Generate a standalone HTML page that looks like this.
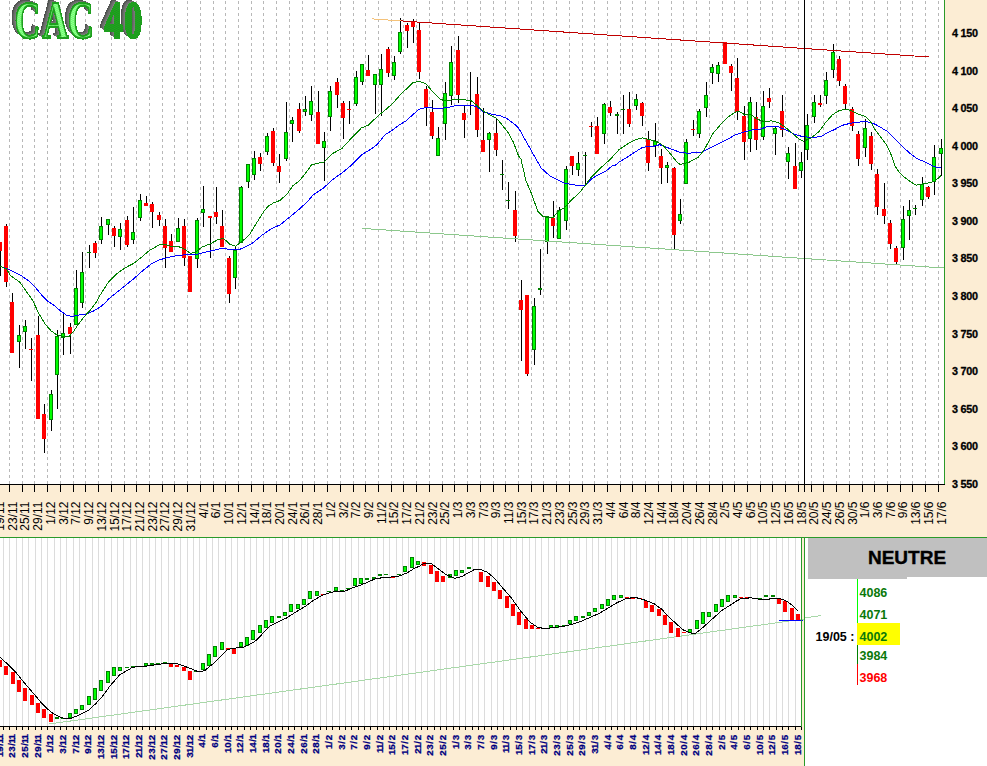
<!DOCTYPE html>
<html><head><meta charset="utf-8"><style>
html,body{margin:0;padding:0;background:#fcedd4;}
body{width:987px;height:766px;overflow:hidden;}
svg{display:block;}

</style></head><body>
<svg width="987" height="766" viewBox="0 0 987 766" shape-rendering="crispEdges">
<defs><filter id="crispT" x="0" y="0" width="1" height="1" color-interpolation-filters="sRGB"><feComponentTransfer><feFuncA type="discrete" tableValues="0 0 1 1 1"/></feComponentTransfer></filter></defs>
<rect x="0" y="0" width="944" height="484" fill="#ffffff"/>
<path d="M9.5 0V484 M22.5 0V484 M34.5 0V484 M47.5 0V484 M60.5 0V484 M73.5 0V484 M85.5 0V484 M98.5 0V484 M111.5 0V484 M124.5 0V484 M136.5 0V484 M149.5 0V484 M162.5 0V484 M174.5 0V484 M187.5 0V484 M200.5 0V484 M213.5 0V484 M225.5 0V484 M238.5 0V484 M251.5 0V484 M263.5 0V484 M276.5 0V484 M289.5 0V484 M302.5 0V484 M314.5 0V484 M327.5 0V484 M340.5 0V484 M353.5 0V484 M365.5 0V484 M378.5 0V484 M391.5 0V484 M403.5 0V484 M416.5 0V484 M429.5 0V484 M442.5 0V484 M454.5 0V484 M467.5 0V484 M480.5 0V484 M493.5 0V484 M505.5 0V484 M518.5 0V484 M531.5 0V484 M543.5 0V484 M556.5 0V484 M569.5 0V484 M582.5 0V484 M594.5 0V484 M607.5 0V484 M620.5 0V484 M632.5 0V484 M645.5 0V484 M658.5 0V484 M671.5 0V484 M683.5 0V484 M696.5 0V484 M709.5 0V484 M722.5 0V484 M734.5 0V484 M747.5 0V484 M760.5 0V484 M772.5 0V484 M785.5 0V484 M798.5 0V484 M811.5 0V484 M823.5 0V484 M836.5 0V484 M849.5 0V484 M862.5 0V484 M874.5 0V484 M887.5 0V484 M900.5 0V484 M912.5 0V484 M925.5 0V484 M938.5 0V484" stroke="#b8b8b8" stroke-width="1" stroke-dasharray="3 3" stroke-dashoffset="5" fill="none"/>
<path d="M0.5 242V276 M6.5 224V287 M12.5 293V353 M19.5 325V368 M25.5 320V349 M31.5 338V381 M38.5 316V419 M44.5 404V453 M51.5 390V431 M57.5 330V409 M63.5 314V355 M70.5 323V354 M76.5 270V325 M82.5 252V308 M89.5 245V268 M95.5 241V258 M101.5 217V244 M108.5 219V235 M114.5 226V247 M120.5 223V250 M127.5 216V247 M133.5 207V244 M140.5 194V221 M146.5 196V206 M152.5 202V228 M159.5 212V226 M165.5 219V268 M171.5 234V252 M178.5 218V242 M184.5 219V266 M190.5 256V292 M197.5 218V268 M203.5 186V227 M210.5 216V258 M216.5 187V224 M222.5 210V247 M229.5 256V303 M235.5 247V289 M241.5 186V243 M248.5 164V188 M254.5 151V180 M260.5 153V171 M267.5 133V155 M273.5 128V166 M279.5 154V183 M286.5 102V161 M292.5 117V142 M299.5 103V133 M305.5 96V116 M311.5 86V121 M318.5 91V144 M324.5 132V181 M330.5 86V131 M337.5 78V108 M343.5 101V139 M349.5 101V124 M356.5 71V106 M362.5 64V85 M368.5 55V76 M375.5 74V114 M381.5 54V116 M388.5 47V77 M394.5 56V80 M400.5 18V54 M407.5 23V48 M413.5 19V43 M419.5 22V79 M426.5 86V126 M432.5 100V139 M438.5 127V156 M445.5 82V140 M451.5 46V105 M458.5 36V103 M464.5 106V138 M470.5 72V115 M477.5 77V137 M483.5 108V152 M489.5 132V172 M496.5 119V156 M502.5 160V190 M508.5 182V209 M515.5 191V242 M521.5 280V361 M527.5 295V376 M534.5 298V365 M540.5 249V295 M547.5 217V254 M553.5 201V238 M559.5 207V239 M566.5 166V230 M572.5 156V175 M578.5 152V176 M585.5 152V184 M591.5 122V137 M597.5 117V154 M604.5 103V144 M610.5 101V116 M617.5 112V134 M623.5 95V134 M629.5 92V127 M636.5 94V110 M642.5 102V126 M648.5 131V171 M655.5 123V157 M661.5 149V184 M667.5 162V183 M674.5 167V249 M680.5 199V224 M686.5 139V184 M693.5 120V136 M699.5 109V138 M706.5 82V117 M712.5 64V84 M718.5 62V82 M725.5 42V64 M731.5 64V91 M737.5 58V120 M744.5 106V160 M750.5 97V152 M756.5 102V150 M763.5 91V140 M769.5 88V108 M775.5 127V155 M782.5 95V137 M788.5 147V179 M795.5 143V189 M801.5 152V178 M807.5 114V160 M814.5 95V123 M820.5 95V107 M826.5 72V104 M833.5 44V78 M839.5 56V86 M845.5 84V109 M852.5 107V131 M858.5 131V166 M865.5 119V157 M871.5 132V170 M877.5 169V215 M884.5 183V224 M890.5 220V249 M896.5 246V265 M903.5 206V260 M909.5 200V240 M915.5 205V215 M922.5 177V206 M928.5 186V199 M934.5 145V195 M941.5 139V176" stroke="#000" stroke-width="1" fill="none"/>
<g fill="#ff0000"><rect x="-2" y="242" width="4" height="9"/><rect x="4" y="226" width="4" height="56"/><rect x="10" y="302" width="4" height="51"/><rect x="29" y="349" width="4" height="1"/><rect x="36" y="335" width="4" height="84"/><rect x="42" y="414" width="4" height="25"/><rect x="68" y="327" width="4" height="7"/><rect x="93" y="243" width="4" height="10"/><rect x="112" y="228" width="4" height="8"/><rect x="125" y="220" width="4" height="25"/><rect x="144" y="203" width="4" height="3"/><rect x="150" y="204" width="4" height="8"/><rect x="157" y="215" width="4" height="5"/><rect x="163" y="226" width="4" height="22"/><rect x="169" y="241" width="4" height="11"/><rect x="182" y="226" width="4" height="32"/><rect x="188" y="256" width="4" height="36"/><rect x="208" y="216" width="4" height="2"/><rect x="214" y="212" width="4" height="5"/><rect x="220" y="226" width="4" height="21"/><rect x="227" y="258" width="4" height="36"/><rect x="258" y="157" width="4" height="7"/><rect x="271" y="131" width="4" height="32"/><rect x="277" y="166" width="4" height="6"/><rect x="297" y="109" width="4" height="22"/><rect x="316" y="112" width="4" height="32"/><rect x="335" y="82" width="4" height="13"/><rect x="341" y="103" width="4" height="15"/><rect x="347" y="109" width="4" height="1"/><rect x="366" y="70" width="4" height="6"/><rect x="386" y="49" width="4" height="24"/><rect x="405" y="25" width="4" height="6"/><rect x="411" y="21" width="4" height="6"/><rect x="417" y="30" width="4" height="42"/><rect x="424" y="89" width="4" height="19"/><rect x="430" y="112" width="4" height="24"/><rect x="456" y="50" width="4" height="45"/><rect x="462" y="113" width="4" height="7"/><rect x="475" y="94" width="4" height="36"/><rect x="481" y="140" width="4" height="12"/><rect x="494" y="133" width="4" height="17"/><rect x="513" y="210" width="4" height="26"/><rect x="519" y="300" width="4" height="10"/><rect x="525" y="295" width="4" height="79"/><rect x="551" y="218" width="4" height="8"/><rect x="570" y="156" width="4" height="10"/><rect x="589" y="126" width="4" height="1"/><rect x="595" y="126" width="4" height="28"/><rect x="608" y="107" width="4" height="6"/><rect x="627" y="109" width="4" height="15"/><rect x="640" y="103" width="4" height="13"/><rect x="646" y="139" width="4" height="24"/><rect x="659" y="156" width="4" height="12"/><rect x="672" y="168" width="4" height="67"/><rect x="691" y="129" width="4" height="1"/><rect x="723" y="42" width="4" height="22"/><rect x="729" y="66" width="4" height="7"/><rect x="735" y="78" width="4" height="34"/><rect x="742" y="116" width="4" height="26"/><rect x="754" y="117" width="4" height="23"/><rect x="767" y="98" width="4" height="4"/><rect x="780" y="111" width="4" height="19"/><rect x="793" y="166" width="4" height="23"/><rect x="818" y="103" width="4" height="2"/><rect x="837" y="59" width="4" height="22"/><rect x="843" y="86" width="4" height="18"/><rect x="850" y="109" width="4" height="17"/><rect x="856" y="134" width="4" height="25"/><rect x="869" y="136" width="4" height="28"/><rect x="875" y="174" width="4" height="33"/><rect x="882" y="209" width="4" height="7"/><rect x="888" y="223" width="4" height="21"/><rect x="894" y="248" width="4" height="14"/><rect x="926" y="187" width="4" height="10"/></g>
<g fill="#00ff00" stroke="#008000" stroke-width="1"><rect x="17.5" y="335.5" width="3" height="6"/><rect x="23.5" y="326.5" width="3" height="5"/><rect x="49.5" y="394.5" width="3" height="25"/><rect x="55.5" y="336.5" width="3" height="38"/><rect x="61.5" y="333.5" width="3" height="4"/><rect x="74.5" y="288.5" width="3" height="36"/><rect x="80.5" y="272.5" width="3" height="30"/><rect x="87.5" y="252.5" width="3" height="0.01"/><rect x="99.5" y="226.5" width="3" height="13"/><rect x="106.5" y="219.5" width="3" height="5"/><rect x="118.5" y="229.5" width="3" height="7"/><rect x="131.5" y="232.5" width="3" height="7"/><rect x="138.5" y="200.5" width="3" height="17"/><rect x="176.5" y="228.5" width="3" height="13"/><rect x="195.5" y="220.5" width="3" height="38"/><rect x="201.5" y="209.5" width="3" height="3"/><rect x="233.5" y="250.5" width="3" height="27"/><rect x="239.5" y="187.5" width="3" height="55"/><rect x="246.5" y="164.5" width="3" height="17"/><rect x="252.5" y="158.5" width="3" height="16"/><rect x="265.5" y="136.5" width="3" height="15"/><rect x="284.5" y="132.5" width="3" height="26"/><rect x="290.5" y="120.5" width="3" height="3"/><rect x="303.5" y="109.5" width="3" height="2"/><rect x="309.5" y="101.5" width="3" height="13"/><rect x="322.5" y="141.5" width="3" height="6"/><rect x="328.5" y="91.5" width="3" height="25"/><rect x="354.5" y="77.5" width="3" height="26"/><rect x="360.5" y="64.5" width="3" height="17"/><rect x="373.5" y="74.5" width="3" height="10"/><rect x="379.5" y="69.5" width="3" height="15"/><rect x="392.5" y="62.5" width="3" height="13"/><rect x="398.5" y="32.5" width="3" height="19"/><rect x="436.5" y="138.5" width="3" height="17"/><rect x="443.5" y="93.5" width="3" height="30"/><rect x="449.5" y="62.5" width="3" height="33"/><rect x="468.5" y="100.5" width="3" height="0.01"/><rect x="487.5" y="133.5" width="3" height="6"/><rect x="500.5" y="174.5" width="3" height="0.01"/><rect x="506.5" y="200.5" width="3" height="0.01"/><rect x="532.5" y="306.5" width="3" height="43"/><rect x="538.5" y="288.5" width="3" height="1"/><rect x="545.5" y="217.5" width="3" height="24"/><rect x="557.5" y="210.5" width="3" height="28"/><rect x="564.5" y="169.5" width="3" height="51"/><rect x="576.5" y="163.5" width="3" height="6"/><rect x="583.5" y="155.5" width="3" height="0.01"/><rect x="602.5" y="104.5" width="3" height="29"/><rect x="615.5" y="114.5" width="3" height="1"/><rect x="621.5" y="109.5" width="3" height="0.01"/><rect x="634.5" y="99.5" width="3" height="6"/><rect x="653.5" y="141.5" width="3" height="4"/><rect x="665.5" y="165.5" width="3" height="2"/><rect x="678.5" y="214.5" width="3" height="6"/><rect x="684.5" y="142.5" width="3" height="41"/><rect x="697.5" y="111.5" width="3" height="22"/><rect x="704.5" y="95.5" width="3" height="12"/><rect x="710.5" y="67.5" width="3" height="5"/><rect x="716.5" y="65.5" width="3" height="8"/><rect x="748.5" y="102.5" width="3" height="36"/><rect x="761.5" y="106.5" width="3" height="30"/><rect x="773.5" y="128.5" width="3" height="5"/><rect x="786.5" y="153.5" width="3" height="8"/><rect x="799.5" y="162.5" width="3" height="8"/><rect x="805.5" y="125.5" width="3" height="24"/><rect x="812.5" y="102.5" width="3" height="14"/><rect x="824.5" y="80.5" width="3" height="15"/><rect x="831.5" y="52.5" width="3" height="17"/><rect x="863.5" y="128.5" width="3" height="19"/><rect x="901.5" y="219.5" width="3" height="28"/><rect x="907.5" y="210.5" width="3" height="5"/><rect x="913.5" y="208.5" width="3" height="0.01"/><rect x="920.5" y="184.5" width="3" height="15"/><rect x="932.5" y="157.5" width="3" height="24"/><rect x="939.5" y="148.5" width="3" height="5"/></g>
<line x1="372" y1="18.9" x2="401" y2="20.9" stroke="#f4c27a" stroke-width="1"/><line x1="401" y1="20.9" x2="929" y2="57.0" stroke="#c00000" stroke-width="1"/><line x1="362" y1="228.4" x2="944" y2="268" stroke="#8cc88c" stroke-width="1"/>
<polyline points="0.0,266.2 6.6,268.4 13.2,271.7 21.1,275.6 29.0,281.0 36.7,289.0 41.8,295.1 47.9,301.2 54.0,305.3 61.1,311.4 66.2,315.0 71.3,316.5 77.4,315.3 86.6,313.9 93.7,310.9 99.8,307.3 105.5,302.7 108.5,299.0 117.0,292.2 125.5,285.4 133.9,278.6 142.4,271.0 150.9,264.2 159.4,259.9 167.9,257.4 176.4,255.7 184.8,254.8 195.0,254.8 205.2,252.3 215.4,249.8 222.2,248.1 230.0,249.5 239.4,249.5 251.1,244.2 262.0,235.2 272.2,228.2 280.0,225.0 290.0,216.8 297.9,210.3 306.4,202.7 313.1,195.0 323.3,188.2 333.5,178.9 342.0,173.0 352.2,164.5 362.4,154.3 370.8,149.2 376.7,145.0 385.2,134.6 392.0,130.4 398.8,125.3 405.6,121.1 412.4,115.1 419.2,109.2 425.9,107.5 433.6,108.1 440.4,108.4 447.2,107.7 453.9,106.0 460.7,105.2 470.9,105.2 477.7,107.2 482.8,111.5 491.3,114.0 499.8,115.7 506.5,118.2 513.3,123.3 518.4,127.6 523.5,136.9 530.3,148.8 535.4,158.0 541.3,168.2 549.8,175.8 558.2,180.1 565.0,183.5 571.8,184.3 578.6,186.0 585.2,185.2 592.2,178.4 599.0,174.5 605.6,171.3 612.5,165.6 615.5,165.0 620.0,161.4 625.7,158.2 635.9,151.5 642.7,147.2 652.9,146.4 659.7,144.7 666.5,147.2 673.2,149.8 680.0,152.3 686.8,153.1 701.0,152.8 707.4,149.4 716.6,144.8 725.7,140.2 734.8,135.2 744.0,132.0 753.1,129.7 760.0,129.3 767.9,126.4 778.1,126.7 786.5,130.1 795.0,134.4 803.5,136.9 812.0,137.2 820.5,136.9 829.0,131.8 835.0,129.4 839.2,126.7 844.4,124.7 852.6,122.9 862.0,121.7 870.3,122.1 876.1,124.7 882.0,128.2 887.9,131.7 893.8,137.6 899.6,143.5 905.5,149.4 911.4,154.6 917.3,158.8 924.3,161.7 931.4,165.2 936.1,167.2 940.8,167.2" fill="none" stroke="#0000ff" stroke-width="1" stroke-linejoin="round"/>
<polyline points="0.0,266.2 6.6,269.0 10.5,275.6 19.8,282.2 26.4,291.5 32.6,300.2 38.7,313.4 44.8,323.6 50.9,330.7 56.0,334.3 63.1,336.8 69.2,336.3 73.3,331.8 77.4,325.6 83.5,317.5 89.6,310.9 95.7,303.2 99.8,295.6 108.5,282.0 117.0,273.5 125.5,267.6 133.9,263.3 142.4,256.5 149.2,250.6 159.4,244.7 164.5,244.3 171.3,246.4 178.1,246.4 184.8,249.4 190.8,253.5 196.7,251.5 201.8,247.2 210.3,243.8 218.8,239.2 223.9,238.7 230.0,244.3 235.5,246.2 242.5,241.1 249.6,234.4 254.3,226.6 263.7,211.7 268.4,205.9 273.9,202.7 280.1,200.4 287.7,193.3 292.8,185.7 299.6,180.6 306.4,172.1 311.5,164.8 318.2,163.1 324.2,161.9 331.8,154.0 342.0,148.4 352.2,137.3 361.5,127.8 368.2,125.3 378.4,115.5 385.2,110.0 392.0,104.1 398.8,96.5 405.6,89.7 412.4,82.9 419.2,81.2 425.9,83.7 433.6,92.8 440.4,99.6 447.2,100.9 453.9,99.2 460.7,99.6 470.9,100.4 476.0,104.7 482.8,110.6 489.6,114.8 496.4,118.2 501.5,124.2 508.2,132.7 513.3,142.0 518.4,155.6 520.9,158.8 526.0,180.9 531.1,192.8 537.9,211.5 543.0,216.5 553.1,217.4 558.2,211.5 565.0,207.2 571.8,199.6 578.6,193.6 585.2,185.7 590.1,178.6 595.2,173.5 602.0,166.7 610.5,159.1 618.9,149.8 629.1,143.0 635.9,139.6 642.7,137.9 649.5,139.6 656.3,141.3 663.1,145.5 669.8,153.1 676.6,161.6 680.0,164.4 689.1,162.2 698.3,157.1 703.8,150.3 707.4,143.9 712.0,134.7 716.6,129.2 722.0,122.9 728.4,116.9 734.8,112.3 738.5,111.4 744.0,114.2 750.4,114.4 755.9,118.3 760.0,120.3 764.5,121.6 771.3,120.8 778.1,122.5 784.8,126.7 791.6,132.7 798.4,138.6 803.5,141.1 810.3,138.6 818.8,131.8 825.6,122.5 832.4,114.8 839.2,110.6 846.8,109.2 852.6,111.2 858.5,114.1 865.6,116.5 870.3,121.2 875.0,129.4 882.0,138.8 886.7,145.2 891.4,155.2 894.9,165.8 899.6,172.9 905.5,178.1 911.4,182.3 916.1,185.2 922.0,184.0 929.0,182.8 934.9,181.1 940.8,175.8" fill="none" stroke="#008000" stroke-width="1" stroke-linejoin="round"/>
<rect x="804" y="0" width="1" height="484" fill="#000"/>
<rect x="945" y="0" width="42" height="537" fill="#fcedd4"/>
<rect x="0" y="485" width="987" height="52" fill="#fcedd4"/>
<rect x="944" y="0" width="1" height="485" fill="#2a9a2a"/>
<rect x="0" y="484" width="945" height="1" fill="#000"/>
<path d="M9.5 485V492 M22.5 485V492 M34.5 485V492 M47.5 485V492 M60.5 485V492 M73.5 485V492 M85.5 485V492 M98.5 485V492 M111.5 485V492 M124.5 485V492 M136.5 485V492 M149.5 485V492 M162.5 485V492 M174.5 485V492 M187.5 485V492 M200.5 485V492 M213.5 485V492 M225.5 485V492 M238.5 485V492 M251.5 485V492 M263.5 485V492 M276.5 485V492 M289.5 485V492 M302.5 485V492 M314.5 485V492 M327.5 485V492 M340.5 485V492 M353.5 485V492 M365.5 485V492 M378.5 485V492 M391.5 485V492 M403.5 485V492 M416.5 485V492 M429.5 485V492 M442.5 485V492 M454.5 485V492 M467.5 485V492 M480.5 485V492 M493.5 485V492 M505.5 485V492 M518.5 485V492 M531.5 485V492 M543.5 485V492 M556.5 485V492 M569.5 485V492 M582.5 485V492 M594.5 485V492 M607.5 485V492 M620.5 485V492 M632.5 485V492 M645.5 485V492 M658.5 485V492 M671.5 485V492 M683.5 485V492 M696.5 485V492 M709.5 485V492 M722.5 485V492 M734.5 485V492 M747.5 485V492 M760.5 485V492 M772.5 485V492 M785.5 485V492 M798.5 485V492 M811.5 485V492 M823.5 485V492 M836.5 485V492 M849.5 485V492 M862.5 485V492 M874.5 485V492 M887.5 485V492 M900.5 485V492 M912.5 485V492 M925.5 485V492 M938.5 485V492 M804.5 485V492" stroke="#000" stroke-width="1"/>
<g font-family="Liberation Sans" font-weight="bold" font-size="10.8px" letter-spacing="-0.2" fill="#000" stroke="#000" stroke-width="0.3"><text x="951.9" y="36.9">4 150</text><text x="951.9" y="74.5">4 100</text><text x="951.9" y="112.1">4 050</text><text x="951.9" y="149.7">4 000</text><text x="951.9" y="187.3">3 950</text><text x="951.9" y="224.9">3 900</text><text x="951.9" y="262.4">3 850</text><text x="951.9" y="300.0">3 800</text><text x="951.9" y="337.6">3 750</text><text x="951.9" y="375.2">3 700</text><text x="951.9" y="412.8">3 650</text><text x="951.9" y="450.4">3 600</text><text x="951.9" y="488.0">3 550</text></g>
<g font-family="Liberation Sans" font-size="12px" fill="#000" text-anchor="end"><text transform="translate(4.0,501.5) rotate(-90)">19/11</text><text transform="translate(16.7,501.5) rotate(-90)">23/11</text><text transform="translate(29.4,501.5) rotate(-90)">25/11</text><text transform="translate(42.1,501.5) rotate(-90)">29/11</text><text transform="translate(54.9,501.5) rotate(-90)">1/12</text><text transform="translate(67.6,501.5) rotate(-90)">3/12</text><text transform="translate(80.3,501.5) rotate(-90)">7/12</text><text transform="translate(93.0,501.5) rotate(-90)">9/12</text><text transform="translate(105.8,501.5) rotate(-90)">13/12</text><text transform="translate(118.5,501.5) rotate(-90)">15/12</text><text transform="translate(131.2,501.5) rotate(-90)">17/12</text><text transform="translate(143.9,501.5) rotate(-90)">21/12</text><text transform="translate(156.7,501.5) rotate(-90)">23/12</text><text transform="translate(169.4,501.5) rotate(-90)">27/12</text><text transform="translate(182.1,501.5) rotate(-90)">29/12</text><text transform="translate(194.8,501.5) rotate(-90)">31/12</text><text transform="translate(207.6,501.5) rotate(-90)">4/1</text><text transform="translate(220.3,501.5) rotate(-90)">6/1</text><text transform="translate(233.0,501.5) rotate(-90)">10/1</text><text transform="translate(245.7,501.5) rotate(-90)">12/1</text><text transform="translate(258.5,501.5) rotate(-90)">14/1</text><text transform="translate(271.2,501.5) rotate(-90)">18/1</text><text transform="translate(283.9,501.5) rotate(-90)">20/1</text><text transform="translate(296.6,501.5) rotate(-90)">24/1</text><text transform="translate(309.4,501.5) rotate(-90)">26/1</text><text transform="translate(322.1,501.5) rotate(-90)">28/1</text><text transform="translate(334.8,501.5) rotate(-90)">1/2</text><text transform="translate(347.5,501.5) rotate(-90)">3/2</text><text transform="translate(360.2,501.5) rotate(-90)">7/2</text><text transform="translate(373.0,501.5) rotate(-90)">9/2</text><text transform="translate(385.7,501.5) rotate(-90)">11/2</text><text transform="translate(398.4,501.5) rotate(-90)">15/2</text><text transform="translate(411.1,501.5) rotate(-90)">17/2</text><text transform="translate(423.9,501.5) rotate(-90)">21/2</text><text transform="translate(436.6,501.5) rotate(-90)">23/2</text><text transform="translate(449.3,501.5) rotate(-90)">25/2</text><text transform="translate(462.0,501.5) rotate(-90)">1/3</text><text transform="translate(474.8,501.5) rotate(-90)">3/3</text><text transform="translate(487.5,501.5) rotate(-90)">7/3</text><text transform="translate(500.2,501.5) rotate(-90)">9/3</text><text transform="translate(512.9,501.5) rotate(-90)">11/3</text><text transform="translate(525.7,501.5) rotate(-90)">15/3</text><text transform="translate(538.4,501.5) rotate(-90)">17/3</text><text transform="translate(551.1,501.5) rotate(-90)">21/3</text><text transform="translate(563.8,501.5) rotate(-90)">23/3</text><text transform="translate(576.6,501.5) rotate(-90)">25/3</text><text transform="translate(589.3,501.5) rotate(-90)">29/3</text><text transform="translate(602.0,501.5) rotate(-90)">31/3</text><text transform="translate(614.7,501.5) rotate(-90)">4/4</text><text transform="translate(627.5,501.5) rotate(-90)">6/4</text><text transform="translate(640.2,501.5) rotate(-90)">8/4</text><text transform="translate(652.9,501.5) rotate(-90)">12/4</text><text transform="translate(665.6,501.5) rotate(-90)">14/4</text><text transform="translate(678.3,501.5) rotate(-90)">18/4</text><text transform="translate(691.1,501.5) rotate(-90)">20/4</text><text transform="translate(703.8,501.5) rotate(-90)">26/4</text><text transform="translate(716.5,501.5) rotate(-90)">28/4</text><text transform="translate(729.2,501.5) rotate(-90)">2/5</text><text transform="translate(742.0,501.5) rotate(-90)">4/5</text><text transform="translate(754.7,501.5) rotate(-90)">6/5</text><text transform="translate(767.4,501.5) rotate(-90)">10/5</text><text transform="translate(780.1,501.5) rotate(-90)">12/5</text><text transform="translate(792.9,501.5) rotate(-90)">16/5</text><text transform="translate(805.6,501.5) rotate(-90)">18/5</text><text transform="translate(818.3,501.5) rotate(-90)">20/5</text><text transform="translate(831.0,501.5) rotate(-90)">24/5</text><text transform="translate(843.8,501.5) rotate(-90)">26/5</text><text transform="translate(856.5,501.5) rotate(-90)">30/5</text><text transform="translate(869.2,501.5) rotate(-90)">1/6</text><text transform="translate(881.9,501.5) rotate(-90)">3/6</text><text transform="translate(894.7,501.5) rotate(-90)">7/6</text><text transform="translate(907.4,501.5) rotate(-90)">9/6</text><text transform="translate(920.1,501.5) rotate(-90)">13/6</text><text transform="translate(932.8,501.5) rotate(-90)">15/6</text><text transform="translate(945.6,501.5) rotate(-90)">17/6</text></g>
<rect x="0" y="537" width="987" height="1" fill="#2a9a2a"/>
<rect x="0" y="538" width="801" height="188" fill="#fff"/>
<rect x="0" y="727" width="804" height="39" fill="#fcedd4"/>
<rect x="801" y="538" width="3" height="228" fill="#fcedd4"/>
<path d="M3.5 538V726 M9.5 538V726 M16.5 538V726 M22.5 538V726 M28.5 538V726 M35.5 538V726 M41.5 538V726 M47.5 538V726 M54.5 538V726 M60.5 538V726 M66.5 538V726 M73.5 538V726 M79.5 538V726 M85.5 538V726 M92.5 538V726 M98.5 538V726 M104.5 538V726 M111.5 538V726 M117.5 538V726 M123.5 538V726 M130.5 538V726 M136.5 538V726 M142.5 538V726 M149.5 538V726 M155.5 538V726 M161.5 538V726 M168.5 538V726 M174.5 538V726 M180.5 538V726 M187.5 538V726 M193.5 538V726 M199.5 538V726 M206.5 538V726 M212.5 538V726 M218.5 538V726 M225.5 538V726 M231.5 538V726 M237.5 538V726 M244.5 538V726 M250.5 538V726 M256.5 538V726 M263.5 538V726 M269.5 538V726 M275.5 538V726 M282.5 538V726 M288.5 538V726 M294.5 538V726 M301.5 538V726 M307.5 538V726 M313.5 538V726 M320.5 538V726 M326.5 538V726 M332.5 538V726 M339.5 538V726 M345.5 538V726 M351.5 538V726 M358.5 538V726 M364.5 538V726 M370.5 538V726 M377.5 538V726 M383.5 538V726 M389.5 538V726 M396.5 538V726 M402.5 538V726 M408.5 538V726 M415.5 538V726 M421.5 538V726 M427.5 538V726 M434.5 538V726 M440.5 538V726 M446.5 538V726 M453.5 538V726 M459.5 538V726 M465.5 538V726 M472.5 538V726 M478.5 538V726 M484.5 538V726 M491.5 538V726 M497.5 538V726 M503.5 538V726 M510.5 538V726 M516.5 538V726 M522.5 538V726 M529.5 538V726 M535.5 538V726 M541.5 538V726 M548.5 538V726 M554.5 538V726 M560.5 538V726 M567.5 538V726 M573.5 538V726 M579.5 538V726 M586.5 538V726 M592.5 538V726 M598.5 538V726 M605.5 538V726 M611.5 538V726 M617.5 538V726 M624.5 538V726 M630.5 538V726 M636.5 538V726 M643.5 538V726 M649.5 538V726 M655.5 538V726 M662.5 538V726 M668.5 538V726 M674.5 538V726 M681.5 538V726 M687.5 538V726 M693.5 538V726 M700.5 538V726 M706.5 538V726 M712.5 538V726 M719.5 538V726 M725.5 538V726 M731.5 538V726 M738.5 538V726 M744.5 538V726 M750.5 538V726 M757.5 538V726 M763.5 538V726 M769.5 538V726 M776.5 538V726 M782.5 538V726 M788.5 538V726 M795.5 538V726" stroke="#dcdcdc" stroke-width="1"/>
<line x1="49" y1="724" x2="821" y2="616.6" stroke="#a8d8a8" stroke-width="1"/>
<g fill="#ff0000"><rect x="-2" y="660" width="4" height="7"/><rect x="4" y="666" width="4" height="9"/><rect x="11" y="672" width="4" height="12"/><rect x="17" y="680" width="4" height="12"/><rect x="23" y="688" width="4" height="13"/><rect x="30" y="695" width="4" height="10"/><rect x="36" y="703" width="4" height="10"/><rect x="42" y="709" width="4" height="9"/><rect x="49" y="714" width="4" height="8"/><rect x="169" y="664" width="4" height="3"/><rect x="175" y="665" width="4" height="2"/><rect x="182" y="667" width="4" height="4"/><rect x="188" y="671" width="4" height="9"/><rect x="226" y="648" width="4" height="2"/><rect x="232" y="649" width="4" height="5"/><rect x="321" y="594" width="4" height="1"/><rect x="391" y="576" width="4" height="2"/><rect x="422" y="562" width="4" height="4"/><rect x="429" y="565" width="4" height="9"/><rect x="435" y="571" width="4" height="11"/><rect x="441" y="576" width="4" height="6"/><rect x="473" y="569" width="4" height="1"/><rect x="479" y="572" width="4" height="10"/><rect x="486" y="576" width="4" height="11"/><rect x="492" y="582" width="4" height="9"/><rect x="498" y="590" width="4" height="9"/><rect x="505" y="596" width="4" height="12"/><rect x="511" y="604" width="4" height="12"/><rect x="517" y="612" width="4" height="13"/><rect x="524" y="619" width="4" height="10"/><rect x="530" y="625" width="4" height="4"/><rect x="536" y="628" width="4" height="1"/><rect x="625" y="597" width="4" height="1"/><rect x="631" y="598" width="4" height="1"/><rect x="638" y="598" width="4" height="1"/><rect x="644" y="601" width="4" height="7"/><rect x="650" y="605" width="4" height="7"/><rect x="657" y="609" width="4" height="7"/><rect x="663" y="615" width="4" height="10"/><rect x="669" y="622" width="4" height="11"/><rect x="676" y="628" width="4" height="9"/><rect x="682" y="632" width="4" height="1"/><rect x="739" y="597" width="4" height="1"/><rect x="745" y="597" width="4" height="2"/><rect x="777" y="599" width="4" height="5"/><rect x="783" y="601" width="4" height="11"/><rect x="790" y="608" width="4" height="12"/><rect x="796" y="614" width="4" height="6"/></g>
<g fill="#00ff00" stroke="#008000" stroke-width="1"><rect x="55.5" y="717.5" width="3" height="1"/><rect x="61.5" y="718.5" width="3" height="0.01"/><rect x="68.5" y="713.5" width="3" height="4"/><rect x="74.5" y="709.5" width="3" height="4"/><rect x="80.5" y="705.5" width="3" height="4"/><rect x="87.5" y="696.5" width="3" height="8"/><rect x="93.5" y="688.5" width="3" height="11"/><rect x="99.5" y="680.5" width="3" height="10"/><rect x="106.5" y="671.5" width="3" height="11"/><rect x="112.5" y="667.5" width="3" height="8"/><rect x="118.5" y="667.5" width="3" height="3"/><rect x="125.5" y="667.5" width="3" height="0.01"/><rect x="131.5" y="666.5" width="3" height="0.01"/><rect x="137.5" y="666.5" width="3" height="0.01"/><rect x="144.5" y="663.5" width="3" height="2"/><rect x="150.5" y="663.5" width="3" height="1"/><rect x="156.5" y="663.5" width="3" height="0.01"/><rect x="163.5" y="662.5" width="3" height="0.01"/><rect x="194.5" y="671.5" width="3" height="0.01"/><rect x="201.5" y="663.5" width="3" height="6"/><rect x="207.5" y="654.5" width="3" height="11"/><rect x="213.5" y="646.5" width="3" height="10"/><rect x="220.5" y="642.5" width="3" height="7"/><rect x="239.5" y="642.5" width="3" height="4"/><rect x="245.5" y="637.5" width="3" height="8"/><rect x="251.5" y="630.5" width="3" height="9"/><rect x="258.5" y="625.5" width="3" height="7"/><rect x="264.5" y="620.5" width="3" height="7"/><rect x="270.5" y="616.5" width="3" height="6"/><rect x="277.5" y="616.5" width="3" height="1"/><rect x="283.5" y="612.5" width="3" height="3"/><rect x="289.5" y="604.5" width="3" height="7"/><rect x="296.5" y="604.5" width="3" height="4"/><rect x="302.5" y="599.5" width="3" height="5"/><rect x="308.5" y="591.5" width="3" height="7"/><rect x="315.5" y="591.5" width="3" height="4"/><rect x="327.5" y="591.5" width="3" height="0.01"/><rect x="334.5" y="587.5" width="3" height="3"/><rect x="340.5" y="590.5" width="3" height="0.01"/><rect x="346.5" y="588.5" width="3" height="0.01"/><rect x="353.5" y="578.5" width="3" height="7"/><rect x="359.5" y="578.5" width="3" height="5"/><rect x="365.5" y="578.5" width="3" height="1"/><rect x="372.5" y="577.5" width="3" height="1"/><rect x="378.5" y="574.5" width="3" height="1"/><rect x="384.5" y="574.5" width="3" height="0.01"/><rect x="397.5" y="574.5" width="3" height="0.01"/><rect x="403.5" y="566.5" width="3" height="5"/><rect x="410.5" y="557.5" width="3" height="10"/><rect x="416.5" y="561.5" width="3" height="3"/><rect x="448.5" y="574.5" width="3" height="3"/><rect x="454.5" y="570.5" width="3" height="5"/><rect x="460.5" y="570.5" width="3" height="2"/><rect x="467.5" y="567.5" width="3" height="1"/><rect x="543.5" y="628.5" width="3" height="0.01"/><rect x="549.5" y="625.5" width="3" height="2"/><rect x="555.5" y="625.5" width="3" height="2"/><rect x="562.5" y="625.5" width="3" height="0.01"/><rect x="568.5" y="620.5" width="3" height="3"/><rect x="574.5" y="616.5" width="3" height="4"/><rect x="581.5" y="616.5" width="3" height="1"/><rect x="587.5" y="612.5" width="3" height="3"/><rect x="593.5" y="608.5" width="3" height="3"/><rect x="600.5" y="604.5" width="3" height="4"/><rect x="606.5" y="599.5" width="3" height="6"/><rect x="612.5" y="595.5" width="3" height="4"/><rect x="619.5" y="595.5" width="3" height="2"/><rect x="688.5" y="629.5" width="3" height="3"/><rect x="695.5" y="620.5" width="3" height="8"/><rect x="701.5" y="612.5" width="3" height="11"/><rect x="707.5" y="612.5" width="3" height="4"/><rect x="714.5" y="604.5" width="3" height="7"/><rect x="720.5" y="599.5" width="3" height="7"/><rect x="726.5" y="595.5" width="3" height="6"/><rect x="733.5" y="595.5" width="3" height="2"/><rect x="752.5" y="598.5" width="3" height="0.01"/><rect x="758.5" y="598.5" width="3" height="1"/><rect x="764.5" y="595.5" width="3" height="1"/><rect x="771.5" y="595.5" width="3" height="1"/></g>
<polyline points="0.0,656.8 4.5,661.3 10.1,666.4 15.7,672.0 21.3,679.3 28.1,687.1 34.8,695.0 41.5,702.9 48.3,709.6 53.9,714.1 58.4,716.3 62.9,718.0 71.8,718.0 78.6,715.2 88.7,710.1 95.4,704.0 102.1,696.7 110.0,686.0 119.6,675.0 132.7,667.2 145.7,666.2 158.8,664.3 168.6,663.0 176.7,663.5 188.2,667.6 198.0,671.6 204.5,670.8 214.3,662.7 227.3,649.6 233.9,648.3 243.7,647.1 253.5,642.2 257.3,639.5 264.6,631.3 270.1,625.8 277.4,622.2 286.5,618.0 295.7,612.1 304.8,606.7 312.1,601.2 321.3,595.7 330.4,592.4 339.5,591.1 345.0,591.1 352.3,588.0 359.6,585.6 367.0,582.5 374.3,579.2 381.6,577.8 390.7,577.0 399.9,575.9 407.2,572.8 414.5,568.3 420.0,566.0 423.7,563.3 431.0,563.3 438.3,568.8 445.6,574.2 454.7,578.3 462.0,576.4 469.3,572.4 474.8,569.3 480.3,569.3 487.6,572.4 494.9,578.8 502.2,587.4 511.4,598.0 520.5,610.8 529.6,621.8 537.0,626.9 544.3,628.7 553.4,627.6 562.5,626.5 571.7,624.5 580.8,621.4 591.0,617.0 599.1,613.4 608.3,608.0 617.4,602.5 626.5,598.4 635.7,597.5 644.8,600.1 654.0,603.7 661.3,608.9 668.6,616.5 675.9,623.5 683.2,629.9 690.5,633.0 696.0,633.0 703.3,627.1 712.4,618.9 721.6,610.7 730.7,604.8 736.2,601.2 741.7,598.3 751.0,597.9 758.3,599.1 769.3,599.1 771.1,598.3 782.0,599.1 785.7,600.6 790.3,603.8 793.9,606.6 797.8,610.7" fill="none" stroke="#000" stroke-width="1" stroke-linejoin="round"/>
<rect x="779" y="619.5" width="24" height="1.5" fill="#0000ff"/>
<rect x="0" y="726" width="802" height="1" fill="#000"/>
<path d="M3.5 727V730 M9.5 727V730 M16.5 727V730 M22.5 727V730 M28.5 727V730 M35.5 727V730 M41.5 727V730 M47.5 727V730 M54.5 727V730 M60.5 727V730 M66.5 727V730 M73.5 727V730 M79.5 727V730 M85.5 727V730 M92.5 727V730 M98.5 727V730 M104.5 727V730 M111.5 727V730 M117.5 727V730 M123.5 727V730 M130.5 727V730 M136.5 727V730 M142.5 727V730 M149.5 727V730 M155.5 727V730 M161.5 727V730 M168.5 727V730 M174.5 727V730 M180.5 727V730 M187.5 727V730 M193.5 727V730 M199.5 727V730 M206.5 727V730 M212.5 727V730 M218.5 727V730 M225.5 727V730 M231.5 727V730 M237.5 727V730 M244.5 727V730 M250.5 727V730 M256.5 727V730 M263.5 727V730 M269.5 727V730 M275.5 727V730 M282.5 727V730 M288.5 727V730 M294.5 727V730 M301.5 727V730 M307.5 727V730 M313.5 727V730 M320.5 727V730 M326.5 727V730 M332.5 727V730 M339.5 727V730 M345.5 727V730 M351.5 727V730 M358.5 727V730 M364.5 727V730 M370.5 727V730 M377.5 727V730 M383.5 727V730 M389.5 727V730 M396.5 727V730 M402.5 727V730 M408.5 727V730 M415.5 727V730 M421.5 727V730 M427.5 727V730 M434.5 727V730 M440.5 727V730 M446.5 727V730 M453.5 727V730 M459.5 727V730 M465.5 727V730 M472.5 727V730 M478.5 727V730 M484.5 727V730 M491.5 727V730 M497.5 727V730 M503.5 727V730 M510.5 727V730 M516.5 727V730 M522.5 727V730 M529.5 727V730 M535.5 727V730 M541.5 727V730 M548.5 727V730 M554.5 727V730 M560.5 727V730 M567.5 727V730 M573.5 727V730 M579.5 727V730 M586.5 727V730 M592.5 727V730 M598.5 727V730 M605.5 727V730 M611.5 727V730 M617.5 727V730 M624.5 727V730 M630.5 727V730 M636.5 727V730 M643.5 727V730 M649.5 727V730 M655.5 727V730 M662.5 727V730 M668.5 727V730 M674.5 727V730 M681.5 727V730 M687.5 727V730 M693.5 727V730 M700.5 727V730 M706.5 727V730 M712.5 727V730 M719.5 727V730 M725.5 727V730 M731.5 727V730 M738.5 727V730 M744.5 727V730 M750.5 727V730 M757.5 727V730 M763.5 727V730 M769.5 727V730 M776.5 727V730 M782.5 727V730 M788.5 727V730 M795.5 727V730 M801.5 727V730" stroke="#000" stroke-width="1"/>
<rect x="801" y="538" width="1" height="189" fill="#2a9a2a"/>
<rect x="804" y="538" width="1" height="228" fill="#2a9a2a"/>
<g font-family="Liberation Sans" font-weight="bold" font-size="9.8px" fill="#000080" stroke="#000080" stroke-width="0.25"><text transform="translate(2.8,735) rotate(-90)" x="-22.00 -16.81 -10.66 -8.40 -4.40">19/11</text><text transform="translate(14.8,735) rotate(-90)" x="-22.80 -16.76 -10.66 -8.40 -4.40">23/11</text><text transform="translate(27.8,735) rotate(-90)" x="-22.80 -16.84 -10.66 -8.40 -4.40">25/11</text><text transform="translate(40.8,735) rotate(-90)" x="-22.80 -16.81 -10.66 -8.40 -4.40">29/11</text><text transform="translate(52.8,735) rotate(-90)" x="-18.00 -12.66 -10.40 -5.20">1/12</text><text transform="translate(65.8,735) rotate(-90)" x="-18.76 -12.66 -10.40 -5.20">3/12</text><text transform="translate(78.8,735) rotate(-90)" x="-18.82 -12.66 -10.40 -5.20">7/12</text><text transform="translate(90.8,735) rotate(-90)" x="-18.81 -12.66 -10.40 -5.20">9/12</text><text transform="translate(103.8,735) rotate(-90)" x="-24.00 -18.76 -12.66 -10.40 -5.20">13/12</text><text transform="translate(116.8,735) rotate(-90)" x="-24.00 -18.84 -12.66 -10.40 -5.20">15/12</text><text transform="translate(128.8,735) rotate(-90)" x="-24.00 -18.82 -12.66 -10.40 -5.20">17/12</text><text transform="translate(141.8,735) rotate(-90)" x="-22.80 -18.00 -12.66 -10.40 -5.20">21/12</text><text transform="translate(154.8,735) rotate(-90)" x="-24.80 -18.76 -12.66 -10.40 -5.20">23/12</text><text transform="translate(166.8,735) rotate(-90)" x="-24.80 -18.82 -12.66 -10.40 -5.20">27/12</text><text transform="translate(179.8,735) rotate(-90)" x="-24.80 -18.81 -12.66 -10.40 -5.20">29/12</text><text transform="translate(192.8,735) rotate(-90)" x="-22.76 -18.00 -12.66 -10.40 -5.20">31/12</text><text transform="translate(204.8,735) rotate(-90)" x="-12.87 -6.66 -4.40">4/1</text><text transform="translate(217.8,735) rotate(-90)" x="-12.83 -6.66 -4.40">6/1</text><text transform="translate(230.8,735) rotate(-90)" x="-18.00 -12.82 -6.66 -4.40">10/1</text><text transform="translate(242.8,735) rotate(-90)" x="-18.00 -12.80 -6.66 -4.40">12/1</text><text transform="translate(255.8,735) rotate(-90)" x="-18.00 -12.87 -6.66 -4.40">14/1</text><text transform="translate(268.8,735) rotate(-90)" x="-18.00 -12.83 -6.66 -4.40">18/1</text><text transform="translate(280.8,735) rotate(-90)" x="-18.80 -12.82 -6.66 -4.40">20/1</text><text transform="translate(293.8,735) rotate(-90)" x="-18.80 -12.87 -6.66 -4.40">24/1</text><text transform="translate(306.8,735) rotate(-90)" x="-18.80 -12.83 -6.66 -4.40">26/1</text><text transform="translate(318.8,735) rotate(-90)" x="-18.80 -12.83 -6.66 -4.40">28/1</text><text transform="translate(331.8,735) rotate(-90)" x="-14.00 -8.66 -5.20">1/2</text><text transform="translate(344.8,735) rotate(-90)" x="-14.76 -8.66 -5.20">3/2</text><text transform="translate(356.8,735) rotate(-90)" x="-14.82 -8.66 -5.20">7/2</text><text transform="translate(369.8,735) rotate(-90)" x="-14.81 -8.66 -5.20">9/2</text><text transform="translate(382.8,735) rotate(-90)" x="-18.00 -14.00 -8.66 -5.20">11/2</text><text transform="translate(394.8,735) rotate(-90)" x="-20.00 -14.84 -8.66 -5.20">15/2</text><text transform="translate(407.8,735) rotate(-90)" x="-20.00 -14.82 -8.66 -5.20">17/2</text><text transform="translate(420.8,735) rotate(-90)" x="-18.80 -14.00 -8.66 -5.20">21/2</text><text transform="translate(432.8,735) rotate(-90)" x="-20.80 -14.76 -8.66 -5.20">23/2</text><text transform="translate(445.8,735) rotate(-90)" x="-20.80 -14.84 -8.66 -5.20">25/2</text><text transform="translate(458.8,735) rotate(-90)" x="-14.00 -8.66 -5.16">1/3</text><text transform="translate(470.8,735) rotate(-90)" x="-14.76 -8.66 -5.16">3/3</text><text transform="translate(483.8,735) rotate(-90)" x="-14.82 -8.66 -5.16">7/3</text><text transform="translate(496.8,735) rotate(-90)" x="-14.81 -8.66 -5.16">9/3</text><text transform="translate(508.8,735) rotate(-90)" x="-18.00 -14.00 -8.66 -5.16">11/3</text><text transform="translate(521.8,735) rotate(-90)" x="-20.00 -14.84 -8.66 -5.16">15/3</text><text transform="translate(534.8,735) rotate(-90)" x="-20.00 -14.82 -8.66 -5.16">17/3</text><text transform="translate(546.8,735) rotate(-90)" x="-18.80 -14.00 -8.66 -5.16">21/3</text><text transform="translate(559.8,735) rotate(-90)" x="-20.80 -14.76 -8.66 -5.16">23/3</text><text transform="translate(572.8,735) rotate(-90)" x="-20.80 -14.84 -8.66 -5.16">25/3</text><text transform="translate(584.8,735) rotate(-90)" x="-20.80 -14.81 -8.66 -5.16">29/3</text><text transform="translate(597.8,735) rotate(-90)" x="-18.76 -14.00 -8.66 -5.16">31/3</text><text transform="translate(610.8,735) rotate(-90)" x="-14.87 -8.66 -5.27">4/4</text><text transform="translate(622.8,735) rotate(-90)" x="-14.83 -8.66 -5.27">6/4</text><text transform="translate(635.8,735) rotate(-90)" x="-14.83 -8.66 -5.27">8/4</text><text transform="translate(648.8,735) rotate(-90)" x="-20.00 -14.80 -8.66 -5.27">12/4</text><text transform="translate(660.8,735) rotate(-90)" x="-20.00 -14.87 -8.66 -5.27">14/4</text><text transform="translate(673.8,735) rotate(-90)" x="-20.00 -14.83 -8.66 -5.27">18/4</text><text transform="translate(686.8,735) rotate(-90)" x="-20.80 -14.82 -8.66 -5.27">20/4</text><text transform="translate(698.8,735) rotate(-90)" x="-20.80 -14.83 -8.66 -5.27">26/4</text><text transform="translate(711.8,735) rotate(-90)" x="-20.80 -14.83 -8.66 -5.27">28/4</text><text transform="translate(724.8,735) rotate(-90)" x="-14.80 -8.66 -5.24">2/5</text><text transform="translate(736.8,735) rotate(-90)" x="-14.87 -8.66 -5.24">4/5</text><text transform="translate(749.8,735) rotate(-90)" x="-14.83 -8.66 -5.24">6/5</text><text transform="translate(762.8,735) rotate(-90)" x="-20.00 -14.82 -8.66 -5.24">10/5</text><text transform="translate(774.8,735) rotate(-90)" x="-20.00 -14.80 -8.66 -5.24">12/5</text><text transform="translate(787.8,735) rotate(-90)" x="-20.00 -14.83 -8.66 -5.24">16/5</text><text transform="translate(800.8,735) rotate(-90)" x="-20.00 -14.83 -8.66 -5.24">18/5</text></g>
<rect x="805" y="538" width="182" height="228" fill="#fff"/>
<line x1="805" y1="617.8" x2="821" y2="615.6" stroke="#a8d8a8" stroke-width="1"/>
<rect x="808" y="538" width="179" height="39" fill="#c0c0c0"/>
<rect x="808" y="577" width="99" height="2" fill="#c0c0c0"/>
<text x="907" y="564" font-family="Liberation Sans" font-weight="bold" font-size="19px" text-anchor="middle" fill="#000" stroke="#000" stroke-width="0.4">NEUTRE</text>
<rect x="857" y="623" width="43" height="22" fill="#ffff00"/>
<rect x="857" y="579" width="1" height="44" fill="#00ff00"/>
<rect x="857" y="645" width="1" height="19" fill="#008000"/>
<rect x="857" y="664" width="1" height="21" fill="#ff0000"/>
<g font-family="Liberation Sans" font-weight="bold" font-size="12.5px"><text x="859.5" y="597" fill="#0a780a">4086</text><text x="859.5" y="619" fill="#0a780a">4071</text><text x="859.5" y="641" fill="#0a780a">4002</text><text x="859.5" y="660" fill="#0a780a">3984</text><text x="859.5" y="681.5" fill="#ff0000">3968</text></g>
<text x="815.5" y="641" font-family="Liberation Sans" font-weight="bold" font-size="12.5px" fill="#000">19/05 :</text>
<defs><pattern id="dith" width="2" height="2" patternUnits="userSpaceOnUse"><rect width="1" height="1" fill="#00ff00"/><rect x="1" y="1" width="1" height="1" fill="#00ff00"/><rect x="1" width="1" height="1" fill="#ffffff"/><rect y="1" width="1" height="1" fill="#ffffff"/></pattern><pattern id="dith2" width="2" height="2" patternUnits="userSpaceOnUse"><rect width="2" height="2" fill="#3c3e3c"/><rect width="1" height="1" fill="#00ff00"/><rect x="1" y="1" width="1" height="1" fill="#00ff00"/></pattern><filter id="crisp" x="0" y="0" width="1" height="1" color-interpolation-filters="sRGB"><feComponentTransfer><feFuncA type="discrete" tableValues="0 1"/></feComponentTransfer></filter></defs><g font-family="Liberation Serif" font-weight="bold" font-size="53px" shape-rendering="auto"><g filter="url(#crisp)"><text transform="translate(10.0,34.8) scale(0.68,1)" fill="#4a4c4a">C</text><text transform="translate(37.8,34.8) scale(0.68,1)" fill="#4a4c4a">A</text><text transform="translate(63.2,34.8) scale(0.68,1)" fill="#4a4c4a">C</text><text transform="translate(100.0,34.8) scale(0.68,1)" fill="#4a4c4a">4</text><text transform="translate(119.6,34.8) scale(0.68,1)" fill="#4a4c4a">0</text><text transform="translate(10.6,35.1) scale(0.68,1)" fill="#585a58">C</text><text transform="translate(38.4,35.1) scale(0.68,1)" fill="#585a58">A</text><text transform="translate(63.8,35.1) scale(0.68,1)" fill="#585a58">C</text><text transform="translate(100.6,35.1) scale(0.68,1)" fill="#585a58">4</text><text transform="translate(120.2,35.1) scale(0.68,1)" fill="#585a58">0</text><text transform="translate(11.2,35.5) scale(0.68,1)" fill="#626462">C</text><text transform="translate(39.0,35.5) scale(0.68,1)" fill="#626462">A</text><text transform="translate(64.4,35.5) scale(0.68,1)" fill="#626462">C</text><text transform="translate(101.2,35.5) scale(0.68,1)" fill="#626462">4</text><text transform="translate(120.8,35.5) scale(0.68,1)" fill="#626462">0</text><text transform="translate(11.8,35.9) scale(0.68,1)" fill="#6a6c6a">C</text><text transform="translate(39.6,35.9) scale(0.68,1)" fill="#6a6c6a">A</text><text transform="translate(65.0,35.9) scale(0.68,1)" fill="#6a6c6a">C</text><text transform="translate(101.8,35.9) scale(0.68,1)" fill="#6a6c6a">4</text><text transform="translate(121.4,35.9) scale(0.68,1)" fill="#6a6c6a">0</text><text transform="translate(12.4,36.2) scale(0.68,1)" fill="#707270">C</text><text transform="translate(40.2,36.2) scale(0.68,1)" fill="#707270">A</text><text transform="translate(65.6,36.2) scale(0.68,1)" fill="#707270">C</text><text transform="translate(102.4,36.2) scale(0.68,1)" fill="#707270">4</text><text transform="translate(122.0,36.2) scale(0.68,1)" fill="#707270">0</text><text transform="translate(13.0,36.6) scale(0.68,1)" fill="#767876">C</text><text transform="translate(40.8,36.6) scale(0.68,1)" fill="#767876">A</text><text transform="translate(66.2,36.6) scale(0.68,1)" fill="#767876">C</text><text transform="translate(103.0,36.6) scale(0.68,1)" fill="#767876">4</text><text transform="translate(122.6,36.6) scale(0.68,1)" fill="#767876">0</text><text transform="translate(13.6,36.9) scale(0.68,1)" fill="#7c7e7c">C</text><text transform="translate(41.4,36.9) scale(0.68,1)" fill="#7c7e7c">A</text><text transform="translate(66.8,36.9) scale(0.68,1)" fill="#7c7e7c">C</text><text transform="translate(103.6,36.9) scale(0.68,1)" fill="#7c7e7c">4</text><text transform="translate(123.2,36.9) scale(0.68,1)" fill="#7c7e7c">0</text><text transform="translate(14.1,37.2) scale(0.68,1)" fill="#828482">C</text><text transform="translate(41.9,37.2) scale(0.68,1)" fill="#828482">A</text><text transform="translate(67.3,37.2) scale(0.68,1)" fill="#828482">C</text><text transform="translate(104.1,37.2) scale(0.68,1)" fill="#828482">4</text><text transform="translate(123.7,37.2) scale(0.68,1)" fill="#828482">0</text></g><g filter="url(#crisp)"><text transform="translate(14.6,37.6) scale(0.68,1)" fill="url(#dith)" stroke="url(#dith2)" stroke-width="2.2">C</text><text transform="translate(42.4,37.6) scale(0.68,1)" fill="url(#dith)" stroke="url(#dith2)" stroke-width="2.2">A</text><text transform="translate(67.8,37.6) scale(0.68,1)" fill="url(#dith)" stroke="url(#dith2)" stroke-width="2.2">C</text><text transform="translate(104.6,37.6) scale(0.68,1)" fill="url(#dith2)" stroke="url(#dith2)" stroke-width="2.2">4</text><text transform="translate(124.2,37.6) scale(0.68,1)" fill="url(#dith2)" stroke="url(#dith2)" stroke-width="2.2">0</text></g></g>
</svg>
</body></html>
